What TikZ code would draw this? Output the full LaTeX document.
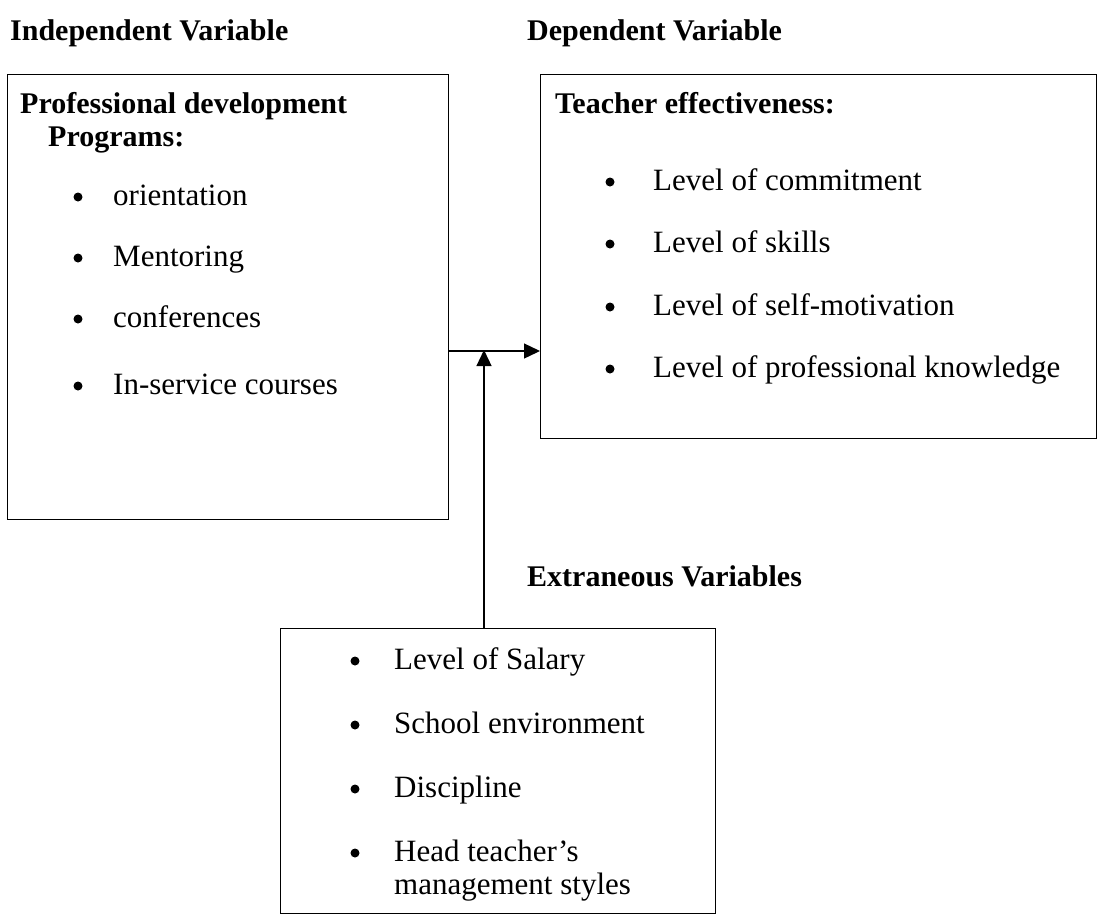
\documentclass[tikz,border=0pt]{standalone}
\usepackage{fontspec}
\setmainfont{Liberation Serif}
\usetikzlibrary{arrows.meta}
\begin{document}
\begin{tikzpicture}[x=1pt,y=-1pt,
  box/.style={draw, line width=1.3pt, anchor=north west, inner sep=0pt},
  txt/.style={anchor=base west, inner sep=0pt, font=\fontsize{31}{36}\selectfont},
  hdr/.style={txt, font=\fontsize{30}{36}\selectfont\bfseries},
  bul/.style={fill, circle, inner sep=0pt, minimum size=9pt},
  arr/.style={line width=1.3pt, -{Triangle[length=16pt,width=15pt]}}]
\useasboundingbox (0,0) rectangle (1097,914);
% boxes
\node[box, minimum width=441pt, minimum height=445pt] (L) at (7,74) {};
\node[box, minimum width=556pt, minimum height=364pt] (R) at (540,74) {};
\node[box, minimum width=435pt, minimum height=285pt] (B) at (280,628) {};
% headings
\node[hdr] (h1) at (10,40) {Independent Variable};
\node[hdr] (h2) at (527,40) {Dependent Variable};
\node[hdr] (h3) at (527,586) {Extraneous Variables};
% left box
\node[hdr] (l0) at (20,113) {Professional development};
\node[hdr] (l1) at (48,146) {Programs:};
\foreach \t/\y/\n in {orientation/205/a, Mentoring/266/b, conferences/327/c, In-service courses/394/d}{
  \node[bul] (lb\n) at (78,\y-8) {};
  \node[txt] (lt\n) at (113,\y) {\t};
}
% right box
\node[hdr] (r0) at (555,113) {Teacher effectiveness:};
\foreach \t/\y/\n in {Level of commitment/190/a, Level of skills/252/b, Level of self-motivation/315/c, Level of professional knowledge/377/d}{
  \node[bul] (rb\n) at (610,\y-8) {};
  \node[txt] (rt\n) at (653,\y) {\t};
}
% bottom box
\foreach \t/\y/\n in {Level of Salary/669/a, School environment/733/b, Discipline/797/c, Head teacher’s/861/d}{
  \node[bul] (bb\n) at (355,\y-8) {};
  \node[txt] (bt\n) at (394,\y) {\t};
}
\node[txt] (bte) at (394,894) {management styles};
% connectors
\coordinate (hy) at (0,351);
\coordinate (vx) at (484,0);
\draw[arr] (L.east |- hy) -- (R.west |- hy);
\draw[arr] (B.north -| vx) -- ([yshift=1pt]hy -| vx);
\end{tikzpicture}
\end{document}
